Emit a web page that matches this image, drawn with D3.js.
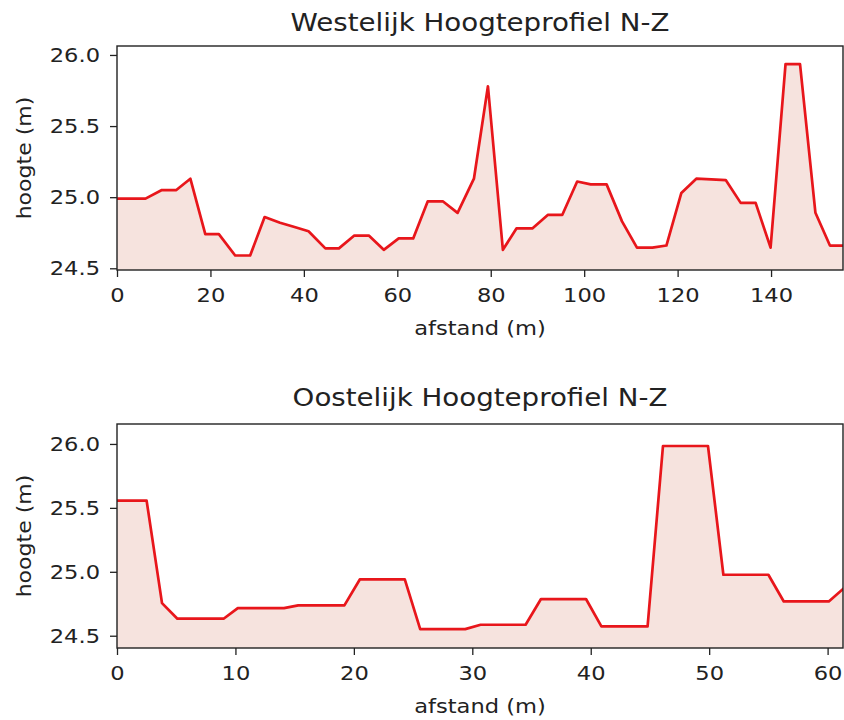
<!DOCTYPE html>
<html>
<head>
<meta charset="utf-8">
<script src="https://cdn.jsdelivr.net/npm/d3@7"></script>
<style>
  html, body { margin: 0; padding: 0; background: #fff; }
  svg { display: block; font-family: "DejaVu Sans", sans-serif; }
</style>
</head>
<body>
<svg id="chart" width="844" height="720"></svg>
<script>
// ---- data ----
const westDist = [0, 3.2, 6.1, 9.6, 12.7, 15.7, 18.9, 21.8, 25.3, 28.5, 31.6, 34.9, 38.0, 41.0, 44.6, 47.5, 50.8, 53.9, 57.1, 60.3, 63.4, 66.5, 69.8, 72.9, 76.4, 79.4, 82.6, 85.5, 88.9, 92.2, 95.3, 98.5, 101.4, 104.8, 108.1, 111.3, 114.6, 117.6, 120.8, 124.0, 127.2, 130.3, 133.5, 136.7, 139.9, 143.1, 146.2, 149.5, 152.6, 155.7];
const westHeight = [24.99, 24.99, 24.99, 25.05, 25.05, 25.13, 24.74, 24.74, 24.59, 24.59, 24.86, 24.82, 24.79, 24.76, 24.64, 24.64, 24.73, 24.73, 24.63, 24.71, 24.71, 24.97, 24.97, 24.89, 25.13, 25.78, 24.63, 24.78, 24.78, 24.875, 24.875, 25.11, 25.09, 25.09, 24.83, 24.645, 24.645, 24.66, 25.03, 25.13, 25.125, 25.12, 24.96, 24.96, 24.645, 25.935, 25.935, 24.89, 24.66, 24.66];

const eastDist = [0, 2.5, 3.8, 5.1, 9.0, 10.2, 14.1, 15.3, 19.2, 20.5, 24.3, 25.6, 29.4, 30.7, 34.5, 35.8, 39.6, 40.9, 44.8, 46.1, 49.9, 51.2, 55.0, 56.3, 60.1, 61.4];
const eastHeight = [25.557, 25.557, 24.755, 24.633, 24.633, 24.716, 24.716, 24.737, 24.737, 24.94, 24.94, 24.552, 24.552, 24.586, 24.586, 24.787, 24.787, 24.573, 24.573, 25.984, 25.984, 24.977, 24.977, 24.768, 24.768, 24.873];

const westXTicks = [0, 20, 40, 60, 80, 100, 120, 140];
const eastXTicks = [0, 10, 20, 30, 40, 50, 60];
const yTicks = [24.5, 25.0, 25.5, 26.0];

const titles = ["Westelijk Hoogteprofiel N-Z", "Oostelijk Hoogteprofiel N-Z"];
const xLabel = "afstand (m)";
const yLabel = "hoogte (m)";

// ---- drawing ----
const svg = d3.select("#chart");
const lineColor = "#e8161b";
const fillColor = "#f6e3de";
const textColor = "#222";
const stretch = 1.13;   // glyphs in the reference are a little wider than DejaVu
const tickFont = 20;

function panel(opts) {
  const { dist, height, xTicks, xDomain, yDomain, left, right, top, bottom, title, titleY } = opts;
  const x = d3.scaleLinear().domain(xDomain).range([left, right]);
  const y = d3.scaleLinear().domain(yDomain).range([bottom, top]);
  const pts = dist.map((d, i) => [d, height[i]]);

  const g = svg.append("g");
  const clipId = "clip" + Math.round(top);
  g.append("clipPath").attr("id", clipId)
    .append("rect").attr("x", left).attr("y", top).attr("width", right - left).attr("height", bottom - top);

  const plot = g.append("g").attr("clip-path", `url(#${clipId})`);
  plot.append("path")
    .datum(pts)
    .attr("fill", fillColor)
    .attr("d", d3.area().x(d => x(d[0])).y0(y(yDomain[0])).y1(d => y(d[1])));
  plot.append("path")
    .datum(pts)
    .attr("fill", "none")
    .attr("stroke", lineColor)
    .attr("stroke-width", 2.7)
    .attr("stroke-linejoin", "round")
    .attr("d", d3.line().x(d => x(d[0])).y(d => y(d[1])));

  // axes
  const xAxis = d3.axisBottom(x).tickValues(xTicks).tickFormat(d3.format("d")).tickSizeInner(7).tickSizeOuter(0).tickPadding(11);
  const yAxis = d3.axisLeft(y).tickValues(yTicks).tickFormat(d3.format(".1f")).tickSizeInner(7).tickSizeOuter(0).tickPadding(8);

  const gx = g.append("g").attr("transform", `translate(0,${bottom})`).call(xAxis);
  const gy = g.append("g").attr("transform", `translate(${left},0)`).call(yAxis);
  [gx, gy].forEach(a => {
    a.select(".domain").remove();
    a.selectAll("line").attr("stroke", textColor).attr("stroke-width", 1.3);
    a.selectAll("text").attr("fill", textColor)
      .style("font-size", tickFont + "px").style("font-family", "DejaVu Sans")
      .attr("transform", `scale(${stretch},1)`);
  });

  // spines
  g.append("rect")
    .attr("x", left).attr("y", top).attr("width", right - left).attr("height", bottom - top)
    .attr("fill", "none").attr("stroke", textColor).attr("stroke-width", 1.4);

  // title & labels
  g.append("text").attr("transform", `translate(${(left + right) / 2},${titleY}) scale(${stretch},1)`)
    .attr("text-anchor", "middle").attr("fill", textColor).style("font-size", "24.5px").text(title);
  g.append("text").attr("transform", `translate(${(left + right) / 2},${bottom + 65}) scale(${stretch},1)`)
    .attr("text-anchor", "middle").attr("fill", textColor).style("font-size", tickFont + "px").text(xLabel);
  g.append("text").attr("transform", `translate(31,${(top + bottom) / 2}) rotate(-90) scale(${stretch},1)`)
    .attr("text-anchor", "middle").attr("fill", textColor).style("font-size", "19.5px").text(yLabel);
}

panel({
  dist: westDist, height: westHeight, xTicks: westXTicks,
  xDomain: [0, 155.4], yDomain: [24.488, 26.063],
  left: 117, right: 843, top: 46, bottom: 270,
  title: titles[0], titleY: 31
});
panel({
  dist: eastDist, height: eastHeight, xTicks: eastXTicks,
  xDomain: [0, 61.3], yDomain: [24.404, 26.156],
  left: 117, right: 843, top: 424, bottom: 648,
  title: titles[1], titleY: 406
});
</script>
</body>
</html>
